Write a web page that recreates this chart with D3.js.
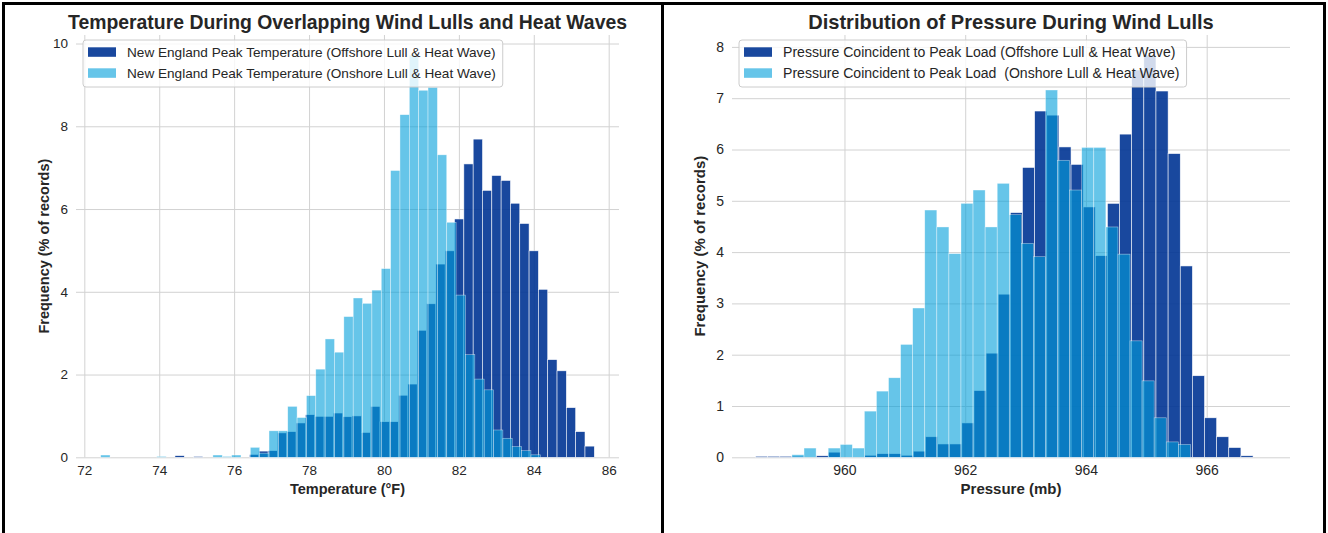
<!DOCTYPE html>
<html>
<head>
<meta charset="utf-8">
<script src="https://cdn.jsdelivr.net/npm/d3@7"></script>
<style>
  body { margin: 0; background: #fff; }
  svg text { font-family: "Liberation Sans", Arial, sans-serif; fill: #262626; }
</style>
</head>
<body>
<svg id="fig" width="1328" height="533"></svg>
<script>
// ---- Temperature (°F): percent of records per bin ----
const tempOffshoreStart = 74.42;
const tempOffshoreWidth = 0.2488;
const tempOffshore = [
  0.04, 0, 0.02, 0, 0, 0, 0, 0, 0.07, 0.15,
  0.16, 0.59, 0.62, 0.83, 1.03, 0.99, 0.99, 1.07, 0.98, 1.00,
  0.60, 1.23, 0.86, 0.86, 1.50, 1.77, 3.07, 3.71, 4.67, 4.99,
  5.76, 7.09, 7.69, 6.45, 6.81, 6.69, 6.14, 5.65, 4.99, 4.06,
  2.36, 2.09, 1.20, 0.62, 0.27
];
const tempOnshoreStart = 72.437;
const tempOnshoreWidth = 0.2497;
const tempOnshore = [
  0.055, 0, 0, 0, 0, 0, 0.02, 0, 0, 0,
  0, 0, 0.055, 0.02, 0.055, 0, 0.24, 0.10, 0.64, 0.64,
  1.23, 0.96, 1.49, 2.13, 2.86, 2.54, 3.40, 3.85, 3.72, 4.04,
  4.56, 6.93, 8.28, 9.72, 8.87, 8.94, 7.31, 5.68, 3.92, 2.48,
  1.89, 1.63, 0.66, 0.46, 0.26, 0.16, 0.06
];
const tempTicksX = [72, 74, 76, 78, 80, 82, 84, 86];
const tempTicksY = [0, 2, 4, 6, 8, 10];

// ---- Pressure (mb): percent of records per bin ----
const pressOffshoreStart = 958.527;
const pressOffshoreWidth = 0.201;
const pressOffshore = [
  0.02, 0.02, 0.02, 0.02, 0, 0.03, 0.10, 0, 0, 0.04,
  0.07, 0.07, 0.04, 0.12, 0.40, 0.26, 0.26, 0.67, 1.30, 2.03,
  3.18, 4.77, 5.65, 6.75, 6.67, 6.05, 5.71, 4.88, 3.93, 4.95,
  6.30, 7.55, 7.84, 7.14, 5.92, 3.73, 1.59, 0.77, 0.40, 0.19,
  0.03
];
const pressOnshoreStart = 959.13;
const pressOnshoreWidth = 0.2;
const pressOnshore = [
  0.05, 0.18, 0, 0.18, 0.25, 0.18, 0.90, 1.29, 1.55, 2.20,
  2.91, 4.82, 4.49, 3.97, 4.95, 5.21, 4.49, 5.34, 4.73, 4.17,
  3.91, 7.16, 5.79, 5.21, 6.04, 6.04, 4.49, 3.96, 2.27, 1.49,
  0.77, 0.30, 0.25
];
const pressTicksX = [960, 962, 964, 966];
const pressTicksY = [0, 1, 2, 3, 4, 5, 6, 7, 8];

// Series styling
const offshoreColor = "rgb(0,52,147)";
const offshoreAlpha = 0.9;
const onshoreColor = "rgb(0,158,218)";
const onshoreAlpha = 0.6;

const svg = d3.select("#fig");

// Panel frames
const frame = svg.append("g").attr("fill", "none").attr("stroke", "#000").attr("stroke-width", 3);
frame.append("path").attr("d", "M3.5,540 V3.5 H1324.5 V540");
frame.append("path").attr("d", "M662.5,3.5 V540");

function toBins(start, width, values) {
  return values.map((v, i) => ({ x0: start + i * width, x1: start + (i + 1) * width, v }));
}

function drawPanel(cfg) {
  const top = 35, bottom = 457.3;
  const f = cfg.fontScale;
  const g = svg.append("g");
  const x = d3.scaleLinear().domain(cfg.xDomain).range([cfg.left, cfg.right]);
  const yMax = 1.05 * d3.max(cfg.series.flatMap(s => s.values));
  const y = d3.scaleLinear().domain([0, yMax]).range([bottom, top]);

  // grid + tick labels
  const gx = g.append("g").attr("transform", `translate(0,${bottom})`)
    .call(d3.axisBottom(x).tickValues(cfg.ticksX).tickFormat(d3.format("d"))
      .tickSizeInner(-(bottom - top)).tickSizeOuter(0).tickPadding(8));
  const gy = g.append("g").attr("transform", `translate(${cfg.left},0)`)
    .call(d3.axisLeft(y).tickValues(cfg.ticksY).tickFormat(d3.format("d"))
      .tickSizeInner(-(cfg.right - cfg.left)).tickSizeOuter(0).tickPadding(8));
  [gx, gy].forEach(a => {
    a.select(".domain").remove();
    a.selectAll(".tick line").attr("stroke", "#d2d2d2").attr("stroke-width", 1);
    a.selectAll(".tick text").attr("font-size", 13.5 * f).style("fill", "#262626")
      .attr("font-family", '"Liberation Sans", Arial, sans-serif');
  });

  // histogram bars
  cfg.series.forEach(s => {
    g.append("g")
      .attr("fill", s.color).attr("fill-opacity", s.alpha)
      .attr("stroke", "#fff").attr("stroke-opacity", s.alpha).attr("stroke-width", 0.6)
      .selectAll("rect")
      .data(toBins(s.start, s.width, s.values).filter(d => d.v > 0))
      .join("rect")
      .attr("x", d => x(d.x0))
      .attr("width", d => x(d.x1) - x(d.x0))
      .attr("y", d => y(d.v))
      .attr("height", d => y(0) - y(d.v));
  });

  const cx = (cfg.left + cfg.right) / 2;
  g.append("text").attr("x", cx).attr("y", 29).attr("text-anchor", "middle")
    .attr("font-size", 19.4 * f).attr("font-weight", "bold").text(cfg.title);
  g.append("text").attr("x", cx).attr("y", 494).attr("text-anchor", "middle")
    .attr("font-size", 14.5 * f).attr("font-weight", "bold").text(cfg.xLabel);
  g.append("text").attr("transform", `translate(${cfg.left - 27},${(top + bottom) / 2}) rotate(-90)`)
    .attr("text-anchor", "middle").attr("font-size", 14.5 * f).attr("font-weight", "bold")
    .text(cfg.yLabel);

  // legend
  const lg = g.append("g").attr("transform", `translate(${cfg.left + 7},40)`);
  const box = lg.append("rect").attr("rx", 3).attr("ry", 3)
    .attr("fill", "#fff").attr("fill-opacity", 0.8)
    .attr("stroke", "#cccccc").attr("stroke-width", 1);
  let maxW = 0;
  cfg.series.forEach((s, i) => {
    const cy = 12 + i * 21;
    lg.append("rect").attr("x", 5).attr("y", cy - 4.7).attr("width", 28).attr("height", 9.5)
      .attr("fill", s.color).attr("fill-opacity", s.alpha);
    const t = lg.append("text").attr("x", 44).attr("y", cy).attr("dy", "0.35em")
      .attr("font-size", 13.6 * f).style("white-space", "pre").text(s.label);
    maxW = Math.max(maxW, t.node().getComputedTextLength());
  });
  box.attr("x", 0).attr("y", 0).attr("width", 44 + maxW + 7).attr("height", 47);
}

drawPanel({
  left: 76, right: 619, fontScale: 1.0,
  xDomain: [71.778, 86.275],
  ticksX: tempTicksX, ticksY: tempTicksY,
  title: "Temperature During Overlapping Wind Lulls and Heat Waves",
  xLabel: "Temperature (°F)",
  yLabel: "Frequency (% of records)",
  series: [
    { label: "New England Peak Temperature (Offshore Lull & Heat Wave)",
      start: tempOffshoreStart, width: tempOffshoreWidth, values: tempOffshore,
      color: offshoreColor, alpha: offshoreAlpha },
    { label: "New England Peak Temperature (Onshore Lull & Heat Wave)",
      start: tempOnshoreStart, width: tempOnshoreWidth, values: tempOnshore,
      color: onshoreColor, alpha: onshoreAlpha }
  ]
});

drawPanel({
  left: 732, right: 1290, fontScale: 1.035,
  xDomain: [958.137, 967.38],
  ticksX: pressTicksX, ticksY: pressTicksY,
  title: "Distribution of Pressure During Wind Lulls",
  xLabel: "Pressure (mb)",
  yLabel: "Frequency (% of records)",
  series: [
    { label: "Pressure Coincident to Peak Load (Offshore Lull & Heat Wave)",
      start: pressOffshoreStart, width: pressOffshoreWidth, values: pressOffshore,
      color: offshoreColor, alpha: offshoreAlpha },
    { label: "Pressure Coincident to Peak Load  (Onshore Lull & Heat Wave)",
      start: pressOnshoreStart, width: pressOnshoreWidth, values: pressOnshore,
      color: onshoreColor, alpha: onshoreAlpha }
  ]
});
</script>
</body>
</html>
